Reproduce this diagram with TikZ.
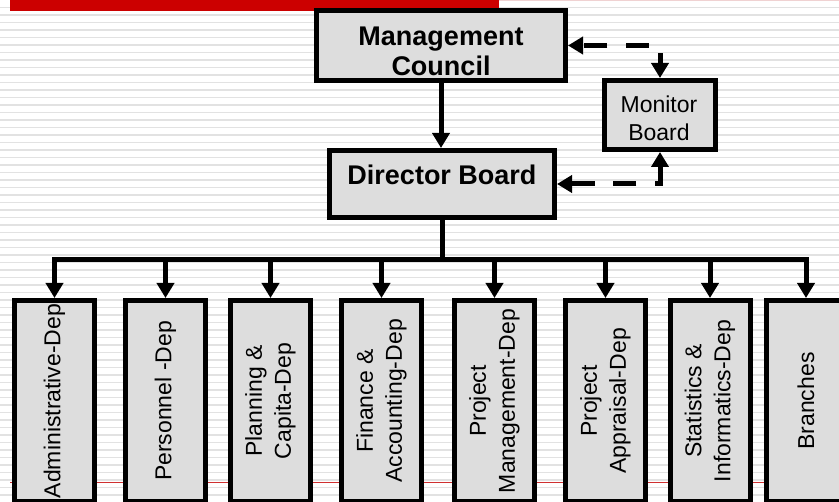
\documentclass[tikz,border=0pt]{standalone}
\usepackage{fontspec}
\setmainfont{Liberation Sans}
\usetikzlibrary{arrows.meta}
\definecolor{barred}{HTML}{CC0000}
\definecolor{boxgray}{HTML}{DDDDDD}
\definecolor{stripegray}{HTML}{E2E2E2}
\definecolor{pinkline}{HTML}{F0D2D2}
\definecolor{thinred}{HTML}{D03030}
\tikzset{
  stripe/.style={stripegray, line width=1.6pt},
  box/.style={draw=black, fill=boxgray, line width=5pt, rectangle, inner sep=0pt},
  depbox/.style={box, minimum width=80pt, minimum height=201pt},
  bigtxt/.style={font=\fontsize{27}{30}\selectfont\bfseries, inner sep=0pt},
  midtxt/.style={font=\fontsize{23}{28}\selectfont, inner sep=0pt},
  deptxt/.style={font=\fontsize{23}{29}\selectfont, inner sep=0pt, rotate=90, align=center},
  conn/.style={line width=5pt, draw=black},
  arr/.style={conn, -{Triangle[length=15pt,width=17pt]}},
  dasharr/.style={conn, {Triangle[length=15pt,width=17pt]}-{Triangle[length=15pt,width=17pt]}, dash pattern=on 23pt off 18.5pt}
}
\begin{document}
\begin{tikzpicture}[x=1pt,y=-1pt]
\useasboundingbox (0,0) rectangle (839,502);
\clip (0,0) rectangle (839,502);
\fill[white] (0,0) rectangle (839,502);
% background stripes
\foreach \k in {1,...,66} {
  \draw[stripe] (0,7.5*\k) -- (839,7.5*\k);
}
% top red bar and thin lines
\fill[barred] (10,0) rectangle (499,11);
\draw[pinkline, line width=1.5pt] (499,0.75) -- (839,0.75);
\draw[thinred, line width=1pt] (10,483) -- (839,483);

% main boxes
\node[box, minimum width=249pt, minimum height=70pt] (mc) at (441,45.5) {};
\node[bigtxt, anchor=base] (mc1) at (441,46) {Management};
\node[bigtxt, anchor=base] (mc2) at (441,76) {Council};

\node[box, minimum width=225pt, minimum height=67pt] (db) at (442,184) {};
\node[bigtxt, anchor=base] (dbt) at (442,185) {Director Board};

\node[box, minimum width=111pt, minimum height=69pt] (mb) at (660,115) {};
\node[midtxt, anchor=base] (mb1) at (659,113) {Monitor};
\node[midtxt, anchor=base] (mb2) at (659,141) {Board};

% departments
\node[depbox] (d1) at (54.5,401) {};
\node[depbox] (d2) at (165.5,401) {};
\node[depbox] (d3) at (270.5,401) {};
\node[depbox] (d4) at (381.5,401) {};
\node[depbox] (d5) at (494.5,401) {};
\node[depbox] (d6) at (605.5,401) {};
\node[depbox] (d7) at (710,401) {};
\node[depbox] (d8) at (806,401) {};

\node[deptxt] (t1) at (d1.center) {Administrative-Dep};
\node[deptxt] (t2) at (d2.center) {Personnel -Dep};
\node[deptxt] (t3) at (d3.center) {Planning \&\\Capita-Dep};
\node[deptxt] (t4) at (d4.center) {Finance \&\\Accounting-Dep};
\node[deptxt] (t5) at (d5.center) {Project\\Management-Dep};
\node[deptxt] (t6) at (d6.center) {Project\\Appraisal-Dep};
\node[deptxt] (t7) at (d7.center) {Statistics \&\\Informatics-Dep};
\node[deptxt] (t8) at (d8.center) {Branches};

% connectors
\draw[arr] (mc.south) -- (mc.south |- db.north);
\coordinate (bus) at (442,260);
\draw[conn] (db.south -| bus) -- (bus);
\draw[arr] (bus) -| (d1.north);
\draw[arr] (bus) -| (d8.north);
\foreach \i in {2,...,7} {
  \draw[arr] (d\i.north |- bus) -- (d\i.north);
}
% dashed feedback links
\draw[dasharr, dash phase=12pt] (mb.north) |- (mc.east);
\draw[dasharr] (mb.south) |- (db.east);
\end{tikzpicture}
\end{document}
